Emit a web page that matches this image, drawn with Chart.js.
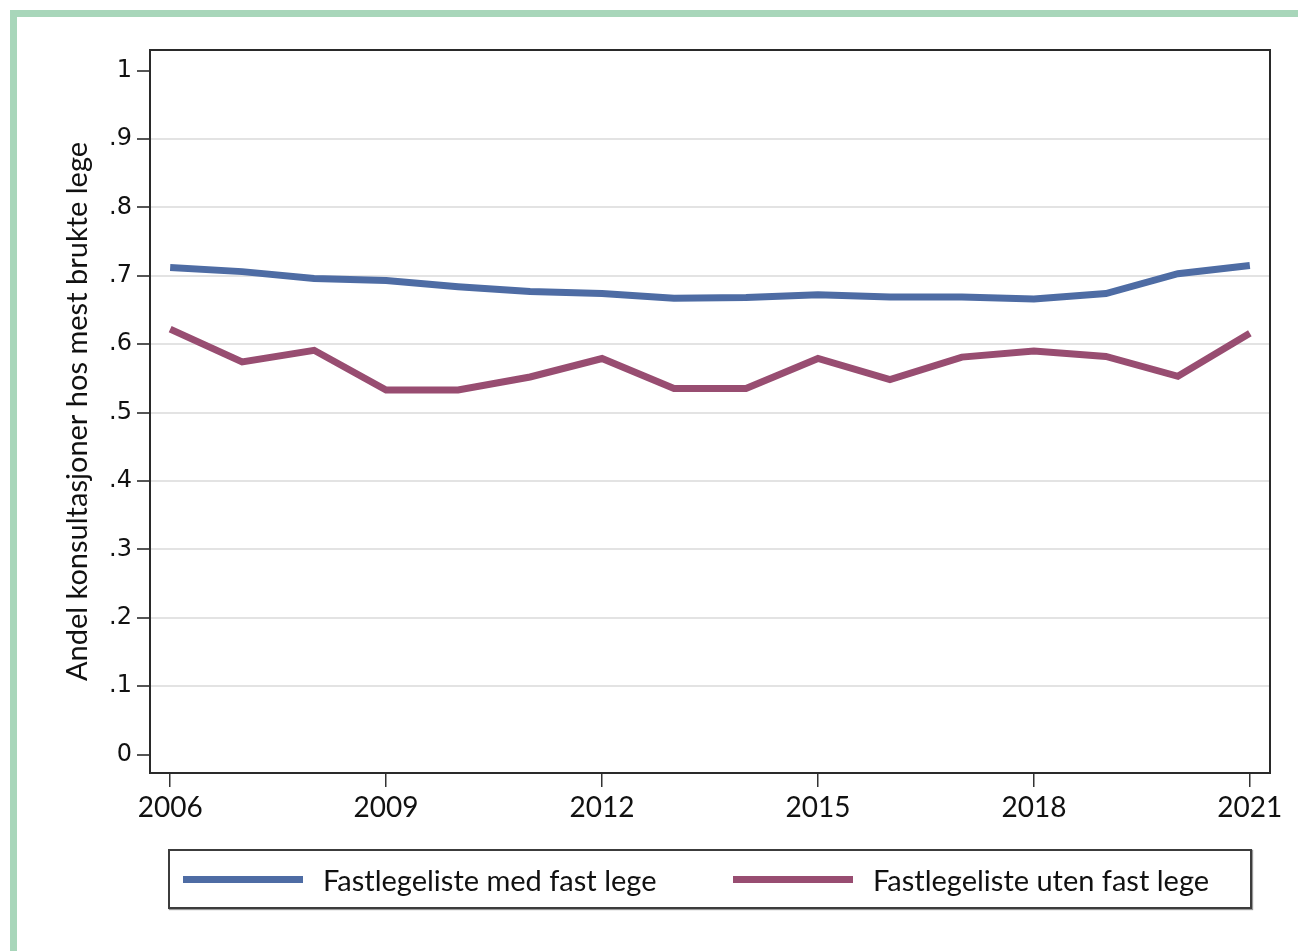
<!DOCTYPE html>
<html lang="no">
<head>
<meta charset="UTF-8">
<title>Andel konsultasjoner hos mest brukte lege</title>
<style>
    body {
        margin: 0;
        background: #fff;
        font-family: Lato, sans-serif;
        overflow: hidden;
    }
    .frame {
        position: absolute;
        left: 10px;
        top: 10px;
        width: 1400px;
        height: 1000px;
        border-left: 7px solid #a8d6ba;
        border-top: 7px solid #a8d6ba;
    }
    .wrap {
        position: absolute;
        left: 0;
        top: 0;
        width: 1298px;
        height: 951px;
    }
    .legend {
        position: absolute;
        left: 168px;
        top: 849px;
        width: 1080px;
        height: 56px;
        border: 2px solid #3c3c3c;
        box-shadow: 1px 1px 1px #999;
        display: flex;
        align-items: center;
        background: #fff;
    }
    .legend-item {
        display: flex;
        align-items: center;
        flex: 0 0 550px;
        font-size: 29px;
        color: #111;
    }
    .legend-item:first-child {
        margin-left: 13px;
    }
    .swatch {
        width: 120px;
        height: 7px;
        margin-right: 20px;
    }
</style>
<script src="https://cdn.jsdelivr.net/npm/chart.js"></script>
</head>
<body>
<div class="frame"></div>
<div class="wrap">
    <canvas id="lineChart" width="1298" height="951"></canvas>
</div>
<div class="legend" id="legend"></div>
<script>
    const years = [2006, 2007, 2008, 2009, 2010, 2011, 2012, 2013, 2014, 2015, 2016, 2017, 2018, 2019, 2020, 2021];
    const medFastLege = [0.712, 0.706, 0.696, 0.693, 0.684, 0.677, 0.674, 0.667, 0.668, 0.672, 0.669, 0.669, 0.666, 0.674, 0.703, 0.715];
    const utenFastLege = [0.622, 0.574, 0.591, 0.533, 0.533, 0.552, 0.579, 0.535, 0.535, 0.579, 0.548, 0.581, 0.590, 0.582, 0.553, 0.616];
    const seriesNames = ['Fastlegeliste med fast lege', 'Fastlegeliste uten fast lege'];
    const seriesColors = ['#4e6ca4', '#984d71'];
    const xTicks = [2006, 2009, 2012, 2015, 2018, 2021];
    const yTicks = [0, 0.1, 0.2, 0.3, 0.4, 0.5, 0.6, 0.7, 0.8, 0.9, 1];
    const yTickLabels = ['0', '.1', '.2', '.3', '.4', '.5', '.6', '.7', '.8', '.9', '1'];

    const toPoints = vals => years.map((y, i) => ({ x: y, y: vals[i] }));

    // full box around the plot region
    const plotFrame = {
        id: 'plotFrame',
        afterDraw(chart) {
            const a = chart.chartArea;
            const c = chart.ctx;
            c.save();
            c.strokeStyle = '#2a2a2a';
            c.lineWidth = 2;
            c.strokeRect(a.left, a.top, a.right - a.left, a.bottom - a.top);
            c.restore();
        }
    };

    const ctx = document.getElementById('lineChart').getContext('2d');
    const chart = new Chart(ctx, {
        type: 'line',
        data: {
            datasets: [medFastLege, utenFastLege].map((vals, i) => ({
                label: seriesNames[i],
                data: toPoints(vals),
                borderColor: seriesColors[i],
                backgroundColor: seriesColors[i],
                borderWidth: 7,
                pointRadius: 0,
                tension: 0
            }))
        },
        plugins: [plotFrame],
        options: {
            responsive: false,
            animation: false,
            layout: { padding: { top: 50, right: 28, left: 0, bottom: 0 } },
            plugins: {
                legend: { display: false },
                tooltip: { enabled: false }
            },
            scales: {
                x: {
                    type: 'linear',
                    min: 2005.72,
                    max: 2021.28,
                    afterBuildTicks: s => { s.ticks = xTicks.map(v => ({ value: v })); },
                    afterFit: s => { s.height = 951 - 773; },
                    border: { display: false },
                    grid: { drawOnChartArea: false, tickLength: 14, tickColor: '#333', lineWidth: 1.5 },
                    ticks: {
                        callback: v => String(v),
                        maxRotation: 0,
                        padding: 4,
                        color: '#111',
                        font: { family: 'Lato', size: 28 }
                    }
                },
                y: {
                    min: -0.027,
                    max: 1.03,
                    afterBuildTicks: s => { s.ticks = yTicks.map(v => ({ value: v })); },
                    afterFit: s => { s.width = 150; },
                    border: { display: false },
                    grid: {
                        color: c => (c.tick && (c.tick.value === 0 || c.tick.value === 1)) ? 'rgba(0,0,0,0)' : '#e3e3e3',
                        lineWidth: 2,
                        tickLength: 13,
                        tickColor: '#555'
                    },
                    ticks: {
                        callback: (v, i) => yTickLabels[i],
                        padding: 5,
                        color: '#111',
                        font: { family: 'DejaVu Sans', size: 24 }
                    },
                    title: {
                        display: true,
                        text: 'Andel konsultasjoner hos mest brukte lege',
                        color: '#111',
                        padding: { top: 60, bottom: 0 },
                        font: { family: 'Lato', size: 29 }
                    }
                }
            }
        }
    });

    const legend = document.getElementById('legend');
    chart.data.datasets.forEach(ds => {
        const item = document.createElement('div');
        item.className = 'legend-item';
        const sw = document.createElement('span');
        sw.className = 'swatch';
        sw.style.background = ds.borderColor;
        const txt = document.createElement('span');
        txt.textContent = ds.label;
        item.appendChild(sw);
        item.appendChild(txt);
        legend.appendChild(item);
    });
</script>
</body>
</html>
